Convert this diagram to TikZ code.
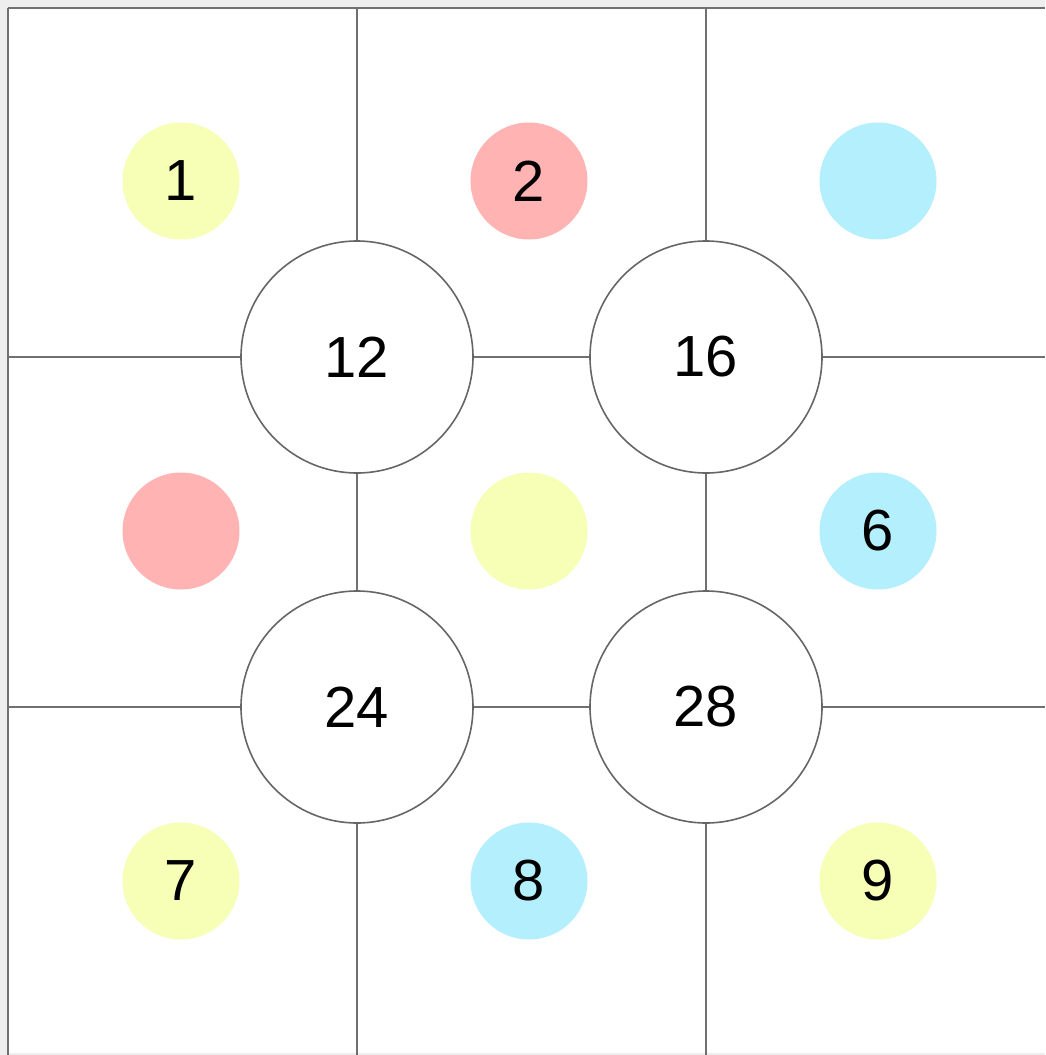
\documentclass[tikz,border=0pt]{standalone}
\usepackage{fontspec}
\setmainfont{Liberation Sans}
\definecolor{gridc}{HTML}{707070}
\definecolor{ringc}{HTML}{666666}
\definecolor{yel}{HTML}{F7FEB5}
\definecolor{red}{HTML}{FFB3B3}
\definecolor{cya}{HTML}{B3EFFC}
\definecolor{edge}{HTML}{EEEEEE}
\begin{document}
\begin{tikzpicture}[x=1pt,y=-1pt,
  gridline/.style={draw=gridc,line width=2.4pt},
  dot/.style={circle,minimum size=117pt,inner sep=0pt,font=\fontsize{58}{60}\selectfont},
  hub/.style={circle,draw=ringc,line width=1.6pt,fill=white,minimum size=232pt,inner sep=0pt,font=\fontsize{58}{60}\selectfont}]
\useasboundingbox (0,0) rectangle (1045,1055);
\fill[edge] (0,0) rectangle (1045,1055);
\fill[white] (8,8) rectangle (1045,1053);
% coordinates for grid ends
\coordinate (t1) at (357,8);  \coordinate (t2) at (706,8);
\coordinate (b1) at (357,1055); \coordinate (b2) at (706,1055);
\coordinate (l1) at (8,357);  \coordinate (l2) at (8,707);
\coordinate (r1) at (1045,357); \coordinate (r2) at (1045,707);
\coordinate (tl) at (8,8); \coordinate (tr) at (1045,8); \coordinate (bl) at (8,1055);
\draw[gridline] (tl) -- (tr);
\draw[gridline] (tl) -- (bl);
% hubs
\node[hub] (h12) at (357,357) {12};
\node[hub] (h16) at (706,357) {16};
\node[hub] (h24) at (357,707) {24};
\node[hub] (h28) at (706,707) {28};
\draw[gridline] (t1) -- (h12.north);
\draw[gridline] (t2) -- (h16.north);
\draw[gridline] (h12.south) -- (h24.north);
\draw[gridline] (h16.south) -- (h28.north);
\draw[gridline] (h24.south) -- (b1);
\draw[gridline] (h28.south) -- (b2);
\draw[gridline] (l1) -- (h12.west);
\draw[gridline] (h12.east) -- (h16.west);
\draw[gridline] (h16.east) -- (r1);
\draw[gridline] (l2) -- (h24.west);
\draw[gridline] (h24.east) -- (h28.west);
\draw[gridline] (h28.east) -- (r2);
% dots
\node[dot,fill=yel] (d1) at (181,181) {1};
\node[dot,fill=red] (d2) at (529,181) {2};
\node[dot,fill=cya] (d3) at (878,181) {};
\node[dot,fill=red] (d4) at (181,531) {};
\node[dot,fill=yel] (d5) at (529,531) {};
\node[dot,fill=cya] (d6) at (878,531) {6};
\node[dot,fill=yel] (d7) at (181,881) {7};
\node[dot,fill=cya] (d8) at (529,881) {8};
\node[dot,fill=yel] (d9) at (878,881) {9};
\end{tikzpicture}
\end{document}
